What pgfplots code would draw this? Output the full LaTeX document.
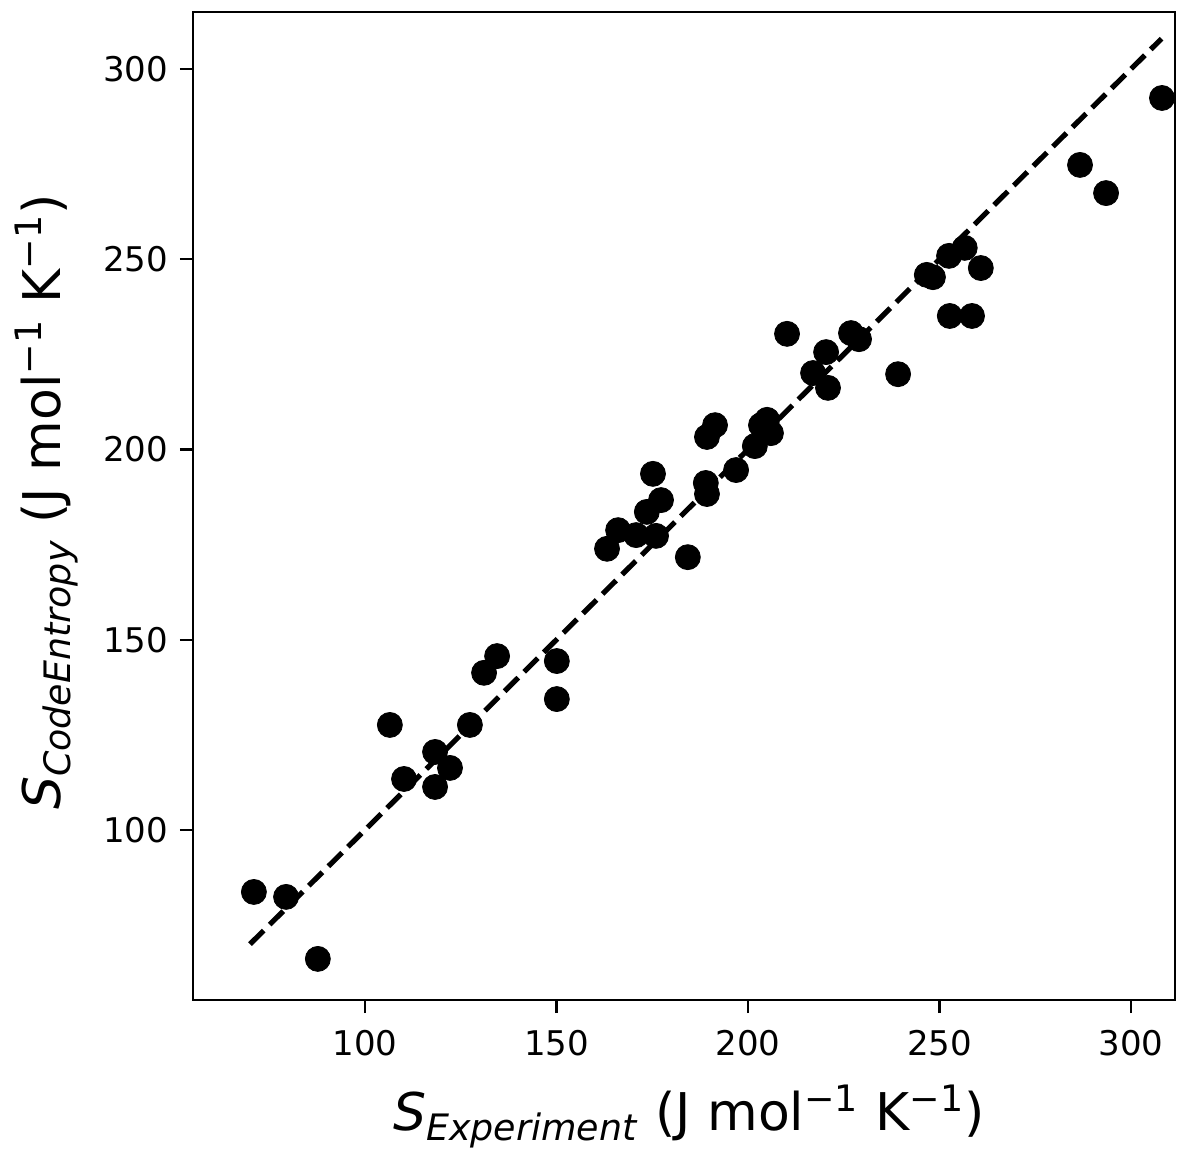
\documentclass[border=0pt]{standalone}
\usepackage{fontspec}
\setmainfont{DejaVu Sans}
\usepackage{pgfplots}
\pgfplotsset{compat=1.18}
\begin{document}
\begin{tikzpicture}
\path[use as bounding box] (-96.5pt,-76pt) rectangle (503.5pt,500pt);
\begin{axis}[
 at={(0,0)}, anchor=south west,
 scale only axis, width=491pt, height=494pt,
 xmin=55.1, xmax=311.5, ymin=55.3, ymax=315,
 xtick={100,150,...,300}, ytick={100,150,...,300},
 tick align=outside, major tick length=6.5pt,
 tick style={line width=1.1pt, black},
 axis line style={line width=1.2pt},
 xtick pos=bottom, ytick pos=left,
 tick label style={font=\fontsize{17}{20}\selectfont},
 xticklabel style={yshift=-5pt},
 yticklabel style={xshift=-2.5pt},
 /pgf/number format/assume math mode=true,
 label style={font=\fontsize{26}{30}\selectfont},
 xlabel={\textit{S}\textsubscript{\textit{Experiment}} (J mol\textsuperscript{−1} K\textsuperscript{−1})},
 ylabel={\textit{S}\textsubscript{\textit{CodeEntropy}} (J mol\textsuperscript{−1} K\textsuperscript{−1})},
 xlabel style={at={(axis description cs:0.505,-0.1316)}, anchor=base},
 ylabel style={at={(axis description cs:-0.1354,0.504)}, anchor=base},
 clip=false,
]
\addplot[black, line width=2.6pt, dash pattern=on 9.6pt off 4.2pt] coordinates {(70,70) (308,308)};
\addplot[only marks, mark=*, mark size=6.25pt, black] coordinates {
(71.0,83.7) (79.4,82.4) (87.7,66.1) (106.5,127.6) (110.2,113.4) (118.3,120.5)
(118.3,111.3) (122.2,116.3) (127.4,127.6) (131.1,141.3) (134.5,145.7)
(150.1,144.4) (150.1,134.4) (163.2,173.9) (166.1,178.8) (170.8,177.5)
(173.6,183.6) (175.2,193.6) (176.0,177.3) (177.3,186.7) (184.3,171.7)
(189.0,191.2) (189.3,188.3) (189.3,203.3) (191.4,206.4) (196.9,194.6)
(201.8,200.9) (203.4,206.4) (205.0,207.8) (206.0,204.3) (210.2,230.4)
(217.0,220.1) (220.4,225.6) (220.9,216.2) (226.9,230.6) (229.0,229.0)
(239.2,219.8) (246.7,245.9) (248.3,245.3) (252.5,250.9) (252.7,235.1)
(256.6,253.0) (258.5,235.1) (260.8,247.7) (286.7,274.8) (293.5,267.4)
(308.1,292.4)
};
\end{axis}
\end{tikzpicture}
\end{document}
